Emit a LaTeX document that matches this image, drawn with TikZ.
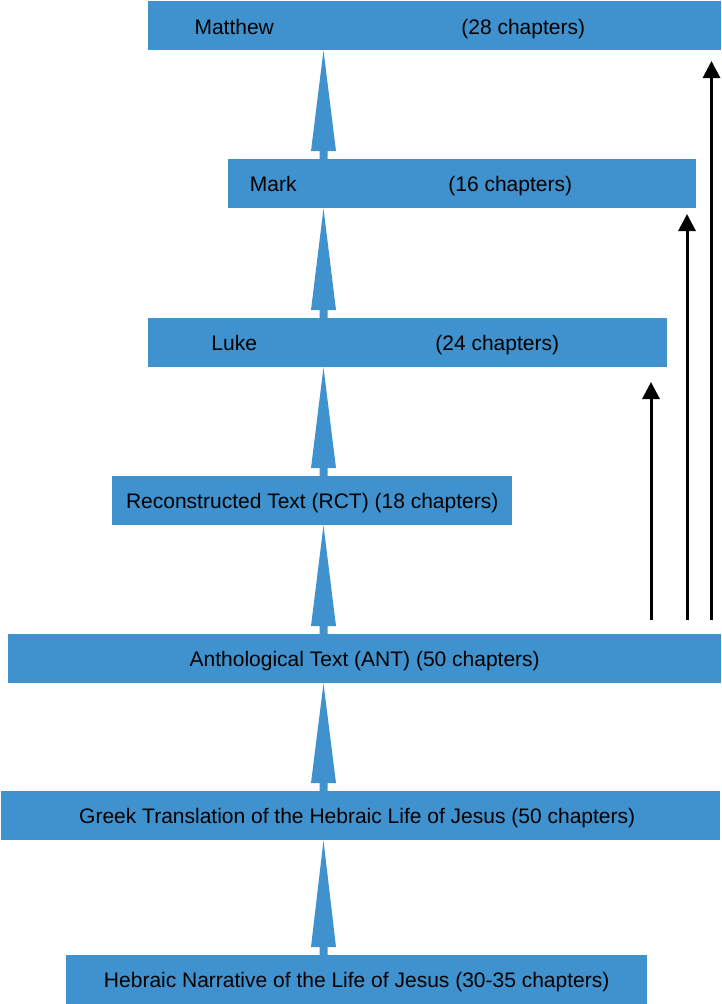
\documentclass[tikz,border=0pt]{standalone}
\usepackage{fontspec}
\setmainfont{Liberation Sans}
\usetikzlibrary{calc,arrows.meta}
\definecolor{boxblue}{RGB}{63,146,206}
\tikzset{
  box/.style={fill=boxblue, draw=none, inner sep=0pt, anchor=north west, minimum height=49pt},
  lbl/.style={inner sep=0pt, anchor=base, text=black, font=\fontsize{21}{25}\selectfont},
  sidearrow/.style={line width=3pt, -{Triangle[width=17pt,length=17pt]}}
}
\newcommand{\bluearrow}[2]{%
  \fill[boxblue] ($(ax |- #1.north)+(-4,0)$) -- ++(0,-8) -- ++(-8.5,0) -- (ax |- #2.south)
    -- ($(ax |- #1.north)+(12.5,-8)$) -- ++(-8.5,0) -- ++(0,8) -- cycle;}
\begin{document}
\begin{tikzpicture}[x=1pt,y=-1pt]
\useasboundingbox (0,0) rectangle (721,1004);
\coordinate (ax) at (323.5,0);
% boxes
\node[box, minimum width=573pt] (mat) at (148,1) {};
\node[box, minimum width=468pt] (mar) at (228,159) {};
\node[box, minimum width=519pt] (luk) at (148,318) {};
\node[box, minimum width=400pt] (rct) at (112,476) {};
\node[box, minimum width=713pt] (ant) at (8,634) {};
\node[box, minimum width=719pt] (grk) at (1,791) {};
\node[box, minimum width=581pt] (heb) at (66,955) {};
% texts
\node[lbl] (matn) at ($(mat.center)+(-200.5,8.5)$) {Matthew};
\node[lbl] (matc) at ($(mat.center)+(88.5,8.5)$) {(28 chapters)};
\node[lbl] (marn) at ($(mar.center)+(-189,8)$) {Mark};
\node[lbl] (marc) at ($(mar.center)+(48,8)$) {(16 chapters)};
\node[lbl] (lukn) at ($(luk.center)+(-173.5,8)$) {Luke};
\node[lbl] (lukc) at ($(luk.center)+(89.5,8)$) {(24 chapters)};
\node[lbl] (rctt) at ($(rct.center)+(0,8)$) {Reconstructed Text (RCT) (18 chapters)};
\node[lbl] (antt) at ($(ant.center)+(0,8)$) {Anthological Text (ANT) (50 chapters)};
\node[lbl] (grkt) at ($(grk.center)+(-3.5,8)$) {Greek Translation of the Hebraic Life of Jesus (50 chapters)};
\node[lbl] (hebt) at ($(heb.center)+(0,8)$) {Hebraic Narrative of the Life of Jesus (30-35 chapters)};
% blue arrows
\bluearrow{heb}{grk}
\bluearrow{grk}{ant}
\bluearrow{ant}{rct}
\bluearrow{rct}{luk}
\bluearrow{luk}{mar}
\bluearrow{mar}{mat}
% black side arrows
\coordinate (s1) at (651,620);
\coordinate (e1) at (651,382);
\coordinate (s2) at (687,620);
\coordinate (e2) at (687,214);
\coordinate (s3) at (711.5,620);
\coordinate (e3) at (711.5,61);
\draw[sidearrow] (s1) -- (e1);
\draw[sidearrow] (s2) -- (e2);
\draw[sidearrow] (s3) -- (e3);
\end{tikzpicture}
\end{document}
